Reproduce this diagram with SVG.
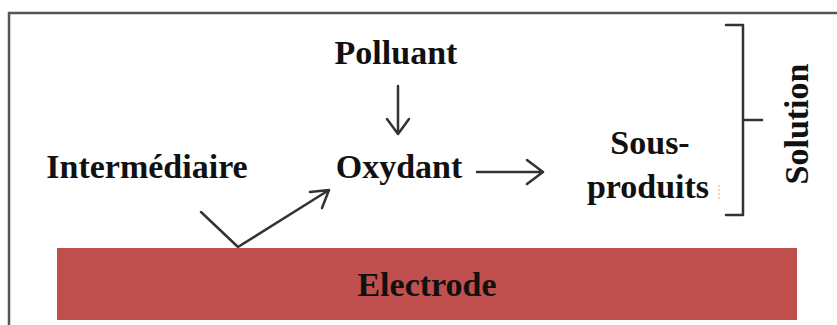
<svg xmlns="http://www.w3.org/2000/svg" width="837" height="325" viewBox="0 0 837 325">
<style>
.t{font-family:"Liberation Serif","Times New Roman",serif;font-weight:bold;font-size:34px;fill:#111}
.ln{stroke:#333;stroke-width:2.5;fill:none;stroke-linecap:round;stroke-linejoin:round}
</style>
<rect width="837" height="325" fill="#fff"/>
<path d="M9 330 V13 H840" fill="none" stroke="#555" stroke-width="2.5"/>
<g id="electrode">
<rect x="57" y="248" width="740" height="72" fill="#c0504d"/>
<text class="t" x="427" y="296" text-anchor="middle">Electrode</text>
</g>
<g id="polluant"><text class="t" x="396" y="64" text-anchor="middle">Polluant</text></g>
<g id="intermediaire"><text class="t" x="147" y="178" text-anchor="middle">Intermédiaire</text></g>
<g id="oxydant"><text class="t" x="399" y="178" text-anchor="middle">Oxydant</text></g>
<g id="sousproduits">
<text class="t" x="650" y="154" text-anchor="middle">Sous-</text>
<text class="t" x="648" y="198" text-anchor="middle">produits</text>
<line x1="719" y1="185" x2="719" y2="199" stroke="#f5c79a" stroke-width="1.5" stroke-dasharray="2,2"/>
</g>
<g id="solution">
<path class="ln" d="M726 25 H743 V215 H726 M743 120 H762" stroke="#444"/>
<text class="t" transform="translate(808,124) rotate(-90)" text-anchor="middle">Solution</text>
</g>
<g id="connectors">
<path class="ln" d="M398 86 V134 M387 119 L398 134 L409 119"/>
<path class="ln" d="M477 172 H543 M527 160 L543 172 L527 184" stroke-width="3"/>
<path class="ln" d="M201 212 L238 247 L329 190 M310 192 L329 190 L322 208"/>
</g>
</svg>
